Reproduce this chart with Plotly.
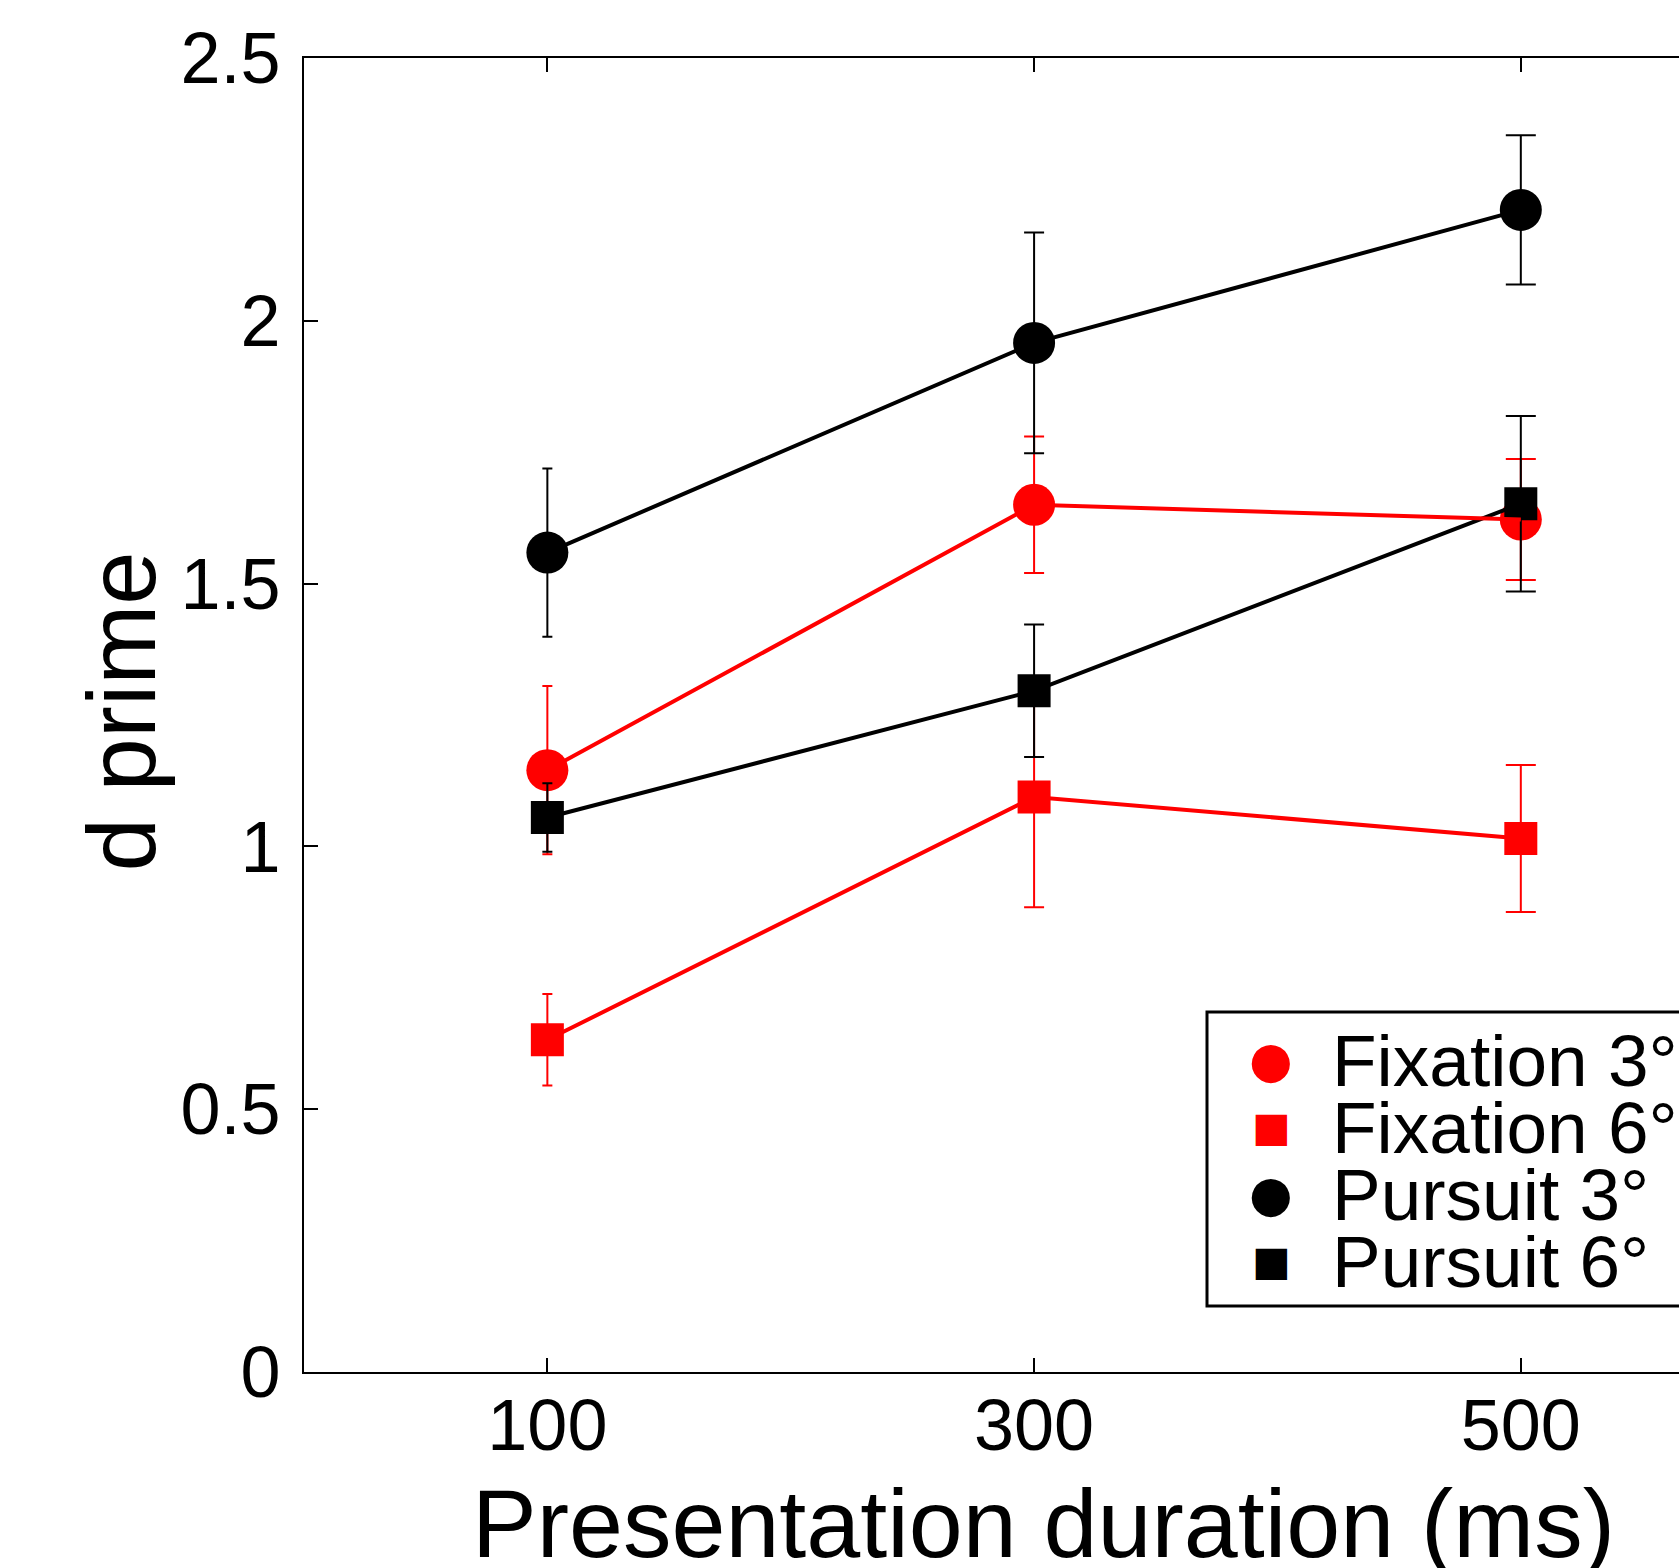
import plotly.graph_objects as go

# ---------------- data ----------------
durations = [100, 300, 500]

fix3 = [1.145, 1.650, 1.622]
fix3_err = [0.160, 0.130, 0.115]

fix6 = [0.632, 1.094, 1.015]
fix6_err = [0.087, 0.210, 0.140]

pur3 = [1.559, 1.958, 2.211]
pur3_err = [0.160, 0.210, 0.142]

pur6 = [1.055, 1.296, 1.652]
pur6_err = [0.065, 0.126, 0.167]

series_names = ["Fixation 3°", "Fixation 6°", "Pursuit 3°", "Pursuit 6°"]
y_tickvals = [0, 0.5, 1, 1.5, 2, 2.5]
y_ticktext = ["0", "0.5", "1", "1.5", "2", "2.5"]
x_tickvals = [100, 300, 500]
x_ticktext = ["100", "300", "500"]
x_title = "Presentation duration (ms)"
y_title = "d prime"

# ---------------- style ----------------
RED = "#ff0000"
BLACK = "#000000"
FONT = "Liberation Sans, Arial, sans-serif"
CAP_HALF = [5, 10, 15]      # error-bar cap half-widths per duration (px)
CIRCLE_SIZE = 42
SQUARE_SIZE = 33
LINE_W = 4
ERR_W = 2

series = [
    dict(name=series_names[0], y=fix3, e=fix3_err, color=RED, symbol="circle", size=CIRCLE_SIZE),
    dict(name=series_names[1], y=fix6, e=fix6_err, color=RED, symbol="square", size=SQUARE_SIZE),
    dict(name=series_names[2], y=pur3, e=pur3_err, color=BLACK, symbol="circle", size=CIRCLE_SIZE),
    dict(name=series_names[3], y=pur6, e=pur6_err, color=BLACK, symbol="square", size=SQUARE_SIZE),
]

fig = go.Figure()


def add_errors(s):
    for i, (x, y, e) in enumerate(zip(durations, s["y"], s["e"])):
        fig.add_trace(go.Scatter(
            x=[x], y=[y], mode="markers",
            marker=dict(size=1, opacity=0, color=s["color"]),
            error_y=dict(type="data", array=[e], visible=True, color=s["color"],
                         thickness=ERR_W, width=CAP_HALF[i]),
            showlegend=False, hoverinfo="skip"))


def add_line(s):
    fig.add_trace(go.Scatter(
        x=durations, y=s["y"], mode="lines",
        line=dict(color=s["color"], width=LINE_W),
        showlegend=False, hoverinfo="skip"))


def add_markers(s):
    fig.add_trace(go.Scatter(
        x=durations, y=s["y"], mode="markers", name=s["name"],
        marker=dict(symbol=s["symbol"], size=s["size"], color=s["color"],
                    line=dict(width=0)),
        showlegend=False))


red_series = series[:2]
black_series = series[2:]

for s in red_series:
    add_errors(s)
for s in red_series:
    add_markers(s)
for s in black_series:
    add_line(s)
for s in black_series:
    add_markers(s)
for s in black_series:
    add_errors(s)
for s in red_series:
    add_line(s)

W, H = 1679, 1568
L, R, T, B = 304, 0, 58, 196
PW, PH = W - L - R, H - T - B


def px_x(p):
    return (p - L) / PW


def px_y(p):
    return (H - B - p) / PH


annotations = [
    dict(text=x_title, xref="paper", yref="paper", x=px_x(1043), y=px_y(1467),
         xanchor="center", yanchor="top", showarrow=False,
         font=dict(family=FONT, size=97, color="black")),
    dict(text=y_title, xref="paper", yref="paper", x=px_x(121), y=0.5027,
         xanchor="center", yanchor="middle", textangle=-90, showarrow=False,
         font=dict(family=FONT, size=96, color="black")),
]

# manual legend (text only)
row_y = [1060, 1127, 1194, 1261]
sym_chars = {"circle": "●", "square": "■"}
sym_sizes = {"circle": 50, "square": 41}
for s, ry in zip(series, row_y):
    annotations.append(dict(
        text=sym_chars[s["symbol"]], xref="paper", yref="paper",
        x=px_x(1271), y=px_y(ry), xanchor="center", yanchor="middle",
        showarrow=False, font=dict(family="DejaVu Sans", size=sym_sizes[s["symbol"]], color=s["color"])))
    annotations.append(dict(
        text=s["name"], xref="paper", yref="paper",
        x=px_x(1330), y=px_y(ry), xanchor="left", yanchor="middle",
        showarrow=False, font=dict(family=FONT, size=73, color="black")))

fig.update_layout(
    width=W, height=H,
    margin=dict(l=L, r=R, t=T, b=B, pad=0),
    paper_bgcolor="white", plot_bgcolor="white",
    font=dict(family=FONT, color="black"),
    showlegend=False,
    xaxis=dict(range=[0, 565], tickmode="array", tickvals=x_tickvals, ticktext=x_ticktext,
               ticks="inside", ticklen=14, tickwidth=2, tickcolor="black",
               showline=True, linewidth=2, linecolor="black", mirror="ticks",
               showgrid=False, zeroline=False,
               tickfont=dict(family=FONT, size=72, color="black"), ticklabelstandoff=-10),
    yaxis=dict(range=[0, 2.5], tickmode="array", tickvals=y_tickvals, ticktext=y_ticktext,
               ticks="inside", ticklen=14, tickwidth=2, tickcolor="black",
               showline=True, linewidth=2, linecolor="black", mirror=False,
               showgrid=False, zeroline=False,
               tickfont=dict(family=FONT, size=72, color="black"), ticklabelstandoff=7),
    shapes=[dict(type="rect", xref="paper", yref="paper",
                 x0=px_x(1207), x1=1.03, y0=px_y(1306), y1=px_y(1012),
                 line=dict(color="black", width=3), fillcolor="white", layer="above")],
    annotations=annotations,
)

fig.write_html(
    "out.html",
    config={"displayModeBar": False},
    post_script="document.body.style.margin='0';document.body.style.overflow='hidden';",
)
